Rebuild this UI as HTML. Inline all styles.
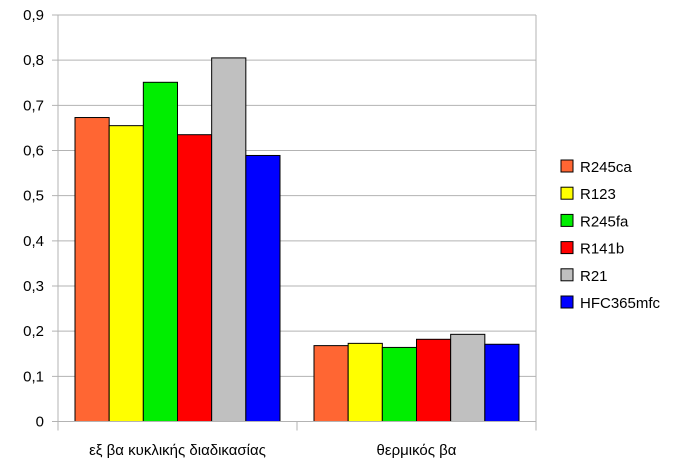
<!DOCTYPE html>
<html><head><meta charset="utf-8"><style>
body{margin:0;background:#fff}
svg text{font-family:"Liberation Sans",sans-serif;fill:#000}
</style></head><body>
<svg id="chart" width="677" height="461" xmlns="http://www.w3.org/2000/svg"></svg>
<script>
const categories = ["εξ βα κυκλικής διαδικασίας", "θερμικός βα"];
const seriesNames = ["R245ca", "R123", "R245fa", "R141b", "R21", "HFC365mfc"];
const seriesColors = ["#ff6633", "#ffff00", "#00ee00", "#ff0000", "#c0c0c0", "#0000ff"];
const values = [
  [0.673, 0.168],
  [0.655, 0.173],
  [0.751, 0.164],
  [0.635, 0.182],
  [0.805, 0.193],
  [0.589, 0.171]
];
const tickLabels = ["0", "0,1", "0,2", "0,3", "0,4", "0,5", "0,6", "0,7", "0,8", "0,9"];
const tickValues = [0, 0.1, 0.2, 0.3, 0.4, 0.5, 0.6, 0.7, 0.8, 0.9];

const svg = document.getElementById('chart');
const NS = 'http://www.w3.org/2000/svg';
const L = 58, R = 536, T = 15, B = 421.5, YMAX = 0.9;
const y = v => B - (v / YMAX) * (B - T);
const catW = (R - L) / categories.length;
const pad = 17;
const barW = (catW - 2 * pad) / seriesNames.length;
const x = (ci, si) => L + ci * catW + pad + si * barW;
function mk(tag, attrs) { const e = document.createElementNS(NS, tag); for (const k in attrs) e.setAttribute(k, attrs[k]); svg.appendChild(e); return e; }

tickValues.forEach((v, i) => {
  const g = mk('line', {x1: L - 6, x2: R, y1: y(v), y2: y(v), stroke: '#b3b3b3', 'stroke-width': 1});
  
  
  const t = mk('text', {x: 44, y: y(v) + 5, 'text-anchor': 'end', 'font-size': 15});
  t.textContent = tickLabels[i];
  
  
});
const ya = mk('line', {x1: L, x2: L, y1: T, y2: B + 9, stroke: '#b3b3b3'});


const ra = mk('line', {x1: R, x2: R, y1: T, y2: B + 9, stroke: '#b3b3b3'});


const mid = mk('line', {x1: L + catW, x2: L + catW, y1: B, y2: B + 9, stroke: '#b3b3b3'});



values.forEach((ser, si) => {
  ser.forEach((v, ci) => {
    const r = mk('rect', {x: x(ci, si), y: y(v), width: barW, height: B - y(v), fill: seriesColors[si], stroke: '#000', 'stroke-width': 1});
    
    
  });
});
const xa = mk('line', {x1: L, x2: R, y1: B, y2: B, stroke: '#b3b3b3'});



categories.forEach((c, ci) => {
  const t = mk('text', {x: L + ci * catW + catW / 2, y: 455, 'text-anchor': 'middle', 'font-size': 15});
  t.textContent = c;
  
  
});

seriesNames.forEach((n, si) => {
  const cy = 166 + si * 27.2;
  const s = mk('rect', {x: 561, y: cy - 6, width: 12, height: 12, fill: seriesColors[si], stroke: '#000', 'stroke-width': 1});
  
  
  const t = mk('text', {x: 580, y: cy + 6, 'font-size': 15});
  t.textContent = n;
  
  
});
</script>
</body></html>
